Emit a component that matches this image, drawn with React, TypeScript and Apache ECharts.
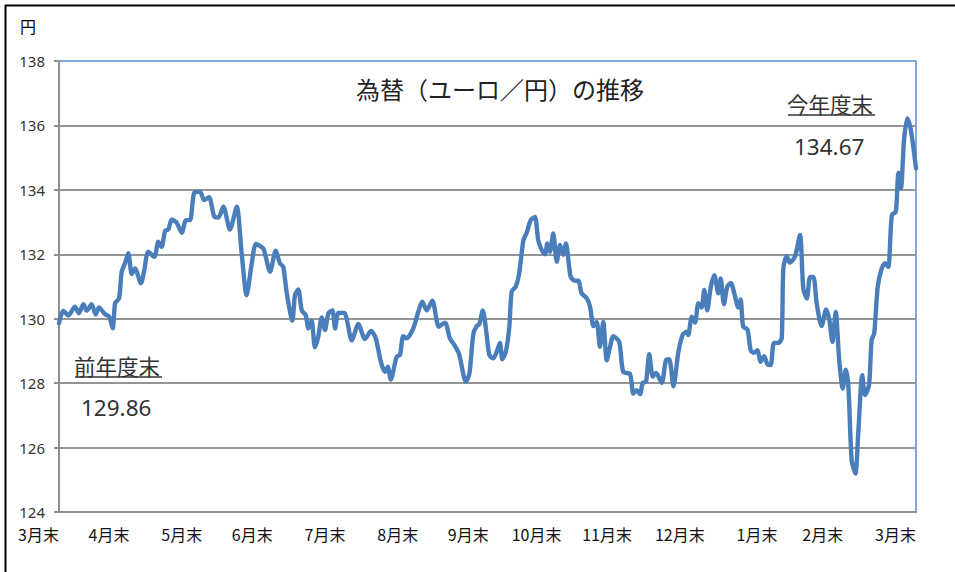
import React, { useEffect, useRef } from "react";
import * as echarts from "echarts";

const titleText = "為替（ユーロ／円）の推移";
const unitText = "円";
const monthLabels = ["3月末", "4月末", "5月末", "6月末", "7月末", "8月末", "9月末", "10月末", "11月末", "12月末", "1月末", "2月末", "3月末"];
const monthEndDays = [0, 30, 61, 91, 122, 153, 183, 214, 244, 275, 306, 334, 365];
const yMin = 124;
const yMax = 138;
const yStep = 2;
const startLabel = "前年度末";
const startValue = "129.86";
const endLabel = "今年度末";
const endValue = "134.67";

// days since previous fiscal year end
const days = [
  0, 1.8, 4.0, 6.8, 8.5, 10.4, 11.8, 13.9, 15.6, 17.0, 19.6, 21.4, 22.9, 23.9, 25.6, 26.7, 28.1, 29.5, 31.0, 32.4,
  34.9, 36.3, 38.0, 40.6, 42.3, 43.7, 45.2, 46.6, 48.0, 50.1, 52.3, 54.1, 55.8, 57.6, 60.1, 61.8, 63.9, 66.2, 67.9, 70.0,
  72.8, 75.7, 77.8, 79.9, 82.1, 83.9, 87.0, 87.7, 89.9, 92.3, 94.1, 95.5, 97.0, 99.4, 100.5, 101.9, 103.4, 105.1, 106.2, 107.6,
  109.0, 110.4, 111.9, 113.3, 114.7, 116.4, 117.6, 119.0, 121.5, 124.7, 127.5, 130.3, 132.9, 134.9, 137.1, 138.8, 140.0, 141.3, 143.8, 145.2,
  146.6, 148.1, 150.9, 153.0, 154.7, 156.6, 159.0, 161.8, 164.4, 166.5, 168.4, 170.4, 173.3, 174.8, 176.5, 177.9, 179.0, 180.5, 181.9, 183.3,
  185.0, 186.4, 187.8, 188.8, 190.3, 191.8, 192.8, 194.5, 196.0, 197.8, 199.2, 200.9, 202.7, 204.1, 205.6, 207.0, 208.0, 209.1, 210.5, 212.0,
  213.4, 214.8, 215.9, 217.9, 219.8, 221.2, 222.6, 224.8, 226.2, 227.6, 229.0, 230.4, 231.8, 233.3, 234.7, 236.1, 238.6, 240.3, 243.2, 244.6,
  246.0, 247.5, 248.6, 250.0, 251.4, 252.9, 254.3, 256.7, 258.5, 259.9, 261.7, 263.8, 265.6, 267.3, 268.0, 269.5, 270.9, 272.3, 273.7, 274.8,
  276.1, 277.6, 279.1, 280.8, 281.8, 283.2, 284.6, 286.1, 287.9, 289.3, 290.3, 291.4, 293.2, 294.6, 296.0, 297.4, 298.9, 300.3, 301.7, 303.1,
  304.5, 306.4, 307.8, 308.5, 309.9, 311.3, 313.5, 315.6, 317.0, 318.5, 319.9, 321.3, 322.7, 324.8, 326.7, 328.1, 329.4, 330.8, 332.3, 333.8,
  335.1, 336.2, 337.6, 339.2, 340.4, 342.1, 343.3, 345.0, 346.1, 347.2, 348.7, 350.4, 351.8, 353.2, 354.7, 356.4, 357.5, 358.6, 359.9, 361.3,
  362.7, 365
];

// EUR/JPY rate (yen)
const rates = [
  129.86, 130.25, 130.1, 130.37, 130.17, 130.45, 130.25, 130.45, 130.13, 130.35, 130.14, 130.06, 129.7, 130.48, 130.63, 131.46, 131.72, 132.03, 131.38, 131.56,
  131.1, 131.5, 132.08, 131.92, 132.39, 132.23, 132.73, 132.77, 133.08, 132.98, 132.67, 133.06, 133.06, 133.91, 133.94, 133.68, 133.77, 133.16, 133.14, 133.48,
  132.77, 133.48, 132.03, 130.73, 131.72, 132.32, 132.18, 132.03, 131.46, 132.11, 131.72, 131.61, 130.79, 129.94, 130.73, 130.91, 130.26, 130.11, 129.7, 129.94,
  129.11, 129.44, 130.04, 129.65, 130.16, 130.26, 129.7, 130.18, 130.18, 129.33, 129.84, 129.37, 129.62, 129.39, 128.66, 128.35, 128.51, 128.11, 128.82, 128.87,
  129.46, 129.39, 129.7, 130.21, 130.53, 130.26, 130.56, 129.75, 129.88, 129.39, 129.18, 128.9, 128.04, 128.3, 129.54, 129.77, 129.83, 130.26, 129.65, 128.87,
  128.77, 128.97, 129.25, 128.74, 128.97, 129.75, 130.84, 130.99, 131.41, 132.44, 132.67, 133.06, 133.16, 132.44, 132.13, 132.0, 132.34, 132.08, 132.65, 131.77,
  132.29, 131.98, 132.34, 131.3, 131.18, 131.18, 130.79, 130.63, 130.37, 129.77, 129.9, 129.13, 129.9, 128.71, 129.13, 129.46, 129.28, 128.35, 128.28, 127.68,
  127.78, 127.66, 128.01, 128.04, 128.9, 128.2, 128.32, 128.01, 128.71, 128.74, 127.9, 128.97, 129.49, 129.6, 129.49, 130.06, 129.88, 130.48, 130.35, 130.89,
  130.26, 130.99, 131.35, 130.79, 131.25, 130.45, 130.99, 131.11, 130.7, 130.35, 130.6, 129.75, 129.67, 129.02, 128.94, 129.02, 128.66, 128.84, 128.59, 128.56,
  129.25, 129.25, 129.39, 131.56, 131.94, 131.74, 131.94, 132.6, 130.94, 130.63, 131.3, 131.3, 130.48, 129.77, 130.29, 129.96, 129.28, 130.21, 128.71, 127.83,
  128.42, 127.89, 125.61, 125.19, 126.44, 128.25, 127.63, 127.94, 129.34, 129.54, 130.99, 131.56, 131.72, 131.61, 133.22, 133.32, 134.53, 134.05, 135.55, 136.22,
  135.91, 134.67
];

const W = 955;
const H = 572;
const JP = '"Noto Sans CJK JP", "Noto Sans", sans-serif';
const NUM = '"Noto Sans", "Noto Sans CJK JP", sans-serif';

export default function App() {
  const ref = useRef<HTMLDivElement | null>(null);

  useEffect(() => {
    if (!ref.current) return;
    const chart = echarts.init(ref.current, null, { renderer: "svg" });
    const seriesData = days.map((d, i) => [d, rates[i]]);

    const textStyleNote = { fill: "#333333", fontFamily: JP, fontSize: 21.5 };
    const option: any = {
      animation: false,
      backgroundColor: "#ffffff",
      grid: {
        left: 59,
        right: W - 916,
        top: 61,
        bottom: H - 512,
        show: true,
        borderColor: "#5b8ccf",
        borderWidth: 1.5,
        backgroundColor: "transparent",
      },
      xAxis: {
        type: "value",
        min: 0,
        max: 365,
        axisLine: { show: true, lineStyle: { color: "#8f8f8f", width: 2 } },
        axisTick: { show: false },
        splitLine: { show: false },
        axisLabel: {
          customValues: monthEndDays,
          formatter: (v: number) => {
            const idx = monthEndDays.indexOf(Math.round(v));
            return idx >= 0 ? monthLabels[idx] : "";
          },
          align: "right",
          margin: 14,
          color: "#111111",
          fontSize: 16,
          fontFamily: JP,
        },
      },
      yAxis: {
        type: "value",
        min: yMin,
        max: yMax,
        interval: yStep,
        axisLine: { show: true, lineStyle: { color: "#8f8f8f", width: 2 } },
        axisTick: { show: true, length: 5, lineStyle: { color: "#8f8f8f", width: 2 } },
        splitLine: { show: true, showMaxLine: false, showMinLine: false, lineStyle: { color: "#959595", width: 2 } },
        axisLabel: { margin: 14, color: "#333333", fontSize: 15, fontFamily: NUM },
      },
      series: [
        {
          type: "line",
          data: seriesData,
          showSymbol: false,
          symbol: "none",
          smooth: 0.25,
          lineStyle: { color: "#4a7ebb", width: 4.4, cap: "round", join: "round" },
          z: 3,
        },
      ],
      graphic: [
        { type: "line", shape: { x1: 5, y1: 5.5, x2: W, y2: 5.5 }, style: { stroke: "#000", lineWidth: 2 } },
        { type: "line", shape: { x1: 5.5, y1: 5, x2: 5.5, y2: H }, style: { stroke: "#000", lineWidth: 2 } },
        { type: "text", left: 20, top: 18, style: { text: unitText, fill: "#000", fontFamily: JP, fontSize: 16 } },
        {
          type: "text",
          x: 500,
          y: 88,
          style: { text: titleText, fill: "#222222", fontFamily: JP, fontSize: 24, align: "center", verticalAlign: "middle" },
        },
        { type: "text", x: 787, y: 103, style: { ...textStyleNote, text: endLabel, verticalAlign: "middle" } },
        { type: "line", shape: { x1: 788, y1: 115, x2: 875, y2: 115 }, style: { stroke: "#333", lineWidth: 1.5 } },
        { type: "text", x: 794, y: 146, style: { text: endValue, fill: "#333333", fontFamily: NUM, fontSize: 22.5, verticalAlign: "middle" } },
        { type: "text", x: 74, y: 365, style: { ...textStyleNote, text: startLabel, verticalAlign: "middle" } },
        { type: "line", shape: { x1: 75, y1: 377, x2: 162, y2: 377 }, style: { stroke: "#333", lineWidth: 1.5 } },
        { type: "text", x: 81, y: 407, style: { text: startValue, fill: "#333333", fontFamily: NUM, fontSize: 22.5, verticalAlign: "middle" } },
      ],
    };
    chart.setOption(option);
    return () => chart.dispose();
  }, []);

  return <div ref={ref} style={{ position: "fixed", left: 0, top: 0, width: W, height: H, background: "#fff" }} />;
}
